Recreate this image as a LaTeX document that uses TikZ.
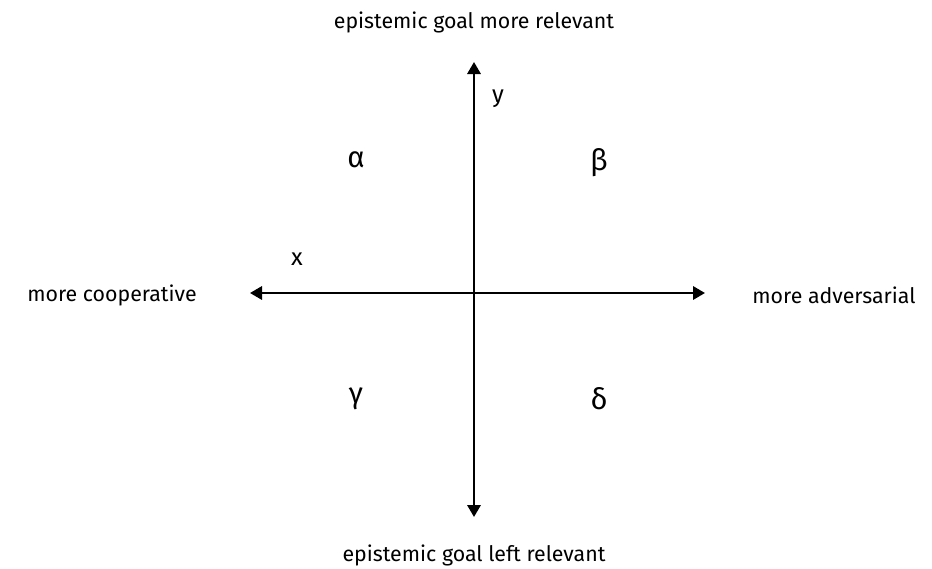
\documentclass[tikz,border=0pt]{standalone}
\usepackage{fontspec}
\setmainfont{Fira Sans}
\usetikzlibrary{arrows.meta}

\begin{document}
\begin{tikzpicture}[x=0.75pt,y=-0.75pt,
  axislabel/.style={font=\fontsize{16}{19}\selectfont},
  axisname/.style={font=\fontsize{18}{21}\selectfont},
  quadrant/.style={font=\fontsize{22}{26}\selectfont}]
  \useasboundingbox (0,0) rectangle (932,568);
  \coordinate (left) at (250,293);
  \coordinate (right) at (705,293);
  \coordinate (top) at (474,62);
  \coordinate (bottom) at (474,517);
  \draw[line width=1.7pt,{Triangle[length=9pt,width=10pt]}-{Triangle[length=9pt,width=10pt]}] (left) -- (right);
  \draw[line width=1.7pt,{Triangle[length=9pt,width=10pt]}-{Triangle[length=9pt,width=10pt]}] (bottom) -- (top);
  \node[axislabel] (toplabel) at (474,22) {epistemic goal more relevant};
  \node[axislabel] (bottomlabel) at (474,555) {epistemic goal left relevant};
  \node[axislabel] (leftlabel) at (112,295) {more cooperative};
  \node[axislabel] (rightlabel) at (834,295) {more adversarial};
  \node[axisname] (ylabel) at (498,99) {y};
  \node[axisname] (xlabel) at (297,259) {x};
  \node[quadrant] (alpha) at (356,160) {α};
  \node[quadrant] (beta) at (599,163) {β};
  \node[quadrant] (gamma) at (356,399) {γ};
  \node[quadrant] (delta) at (599,399) {δ};
\end{tikzpicture}
\end{document}
